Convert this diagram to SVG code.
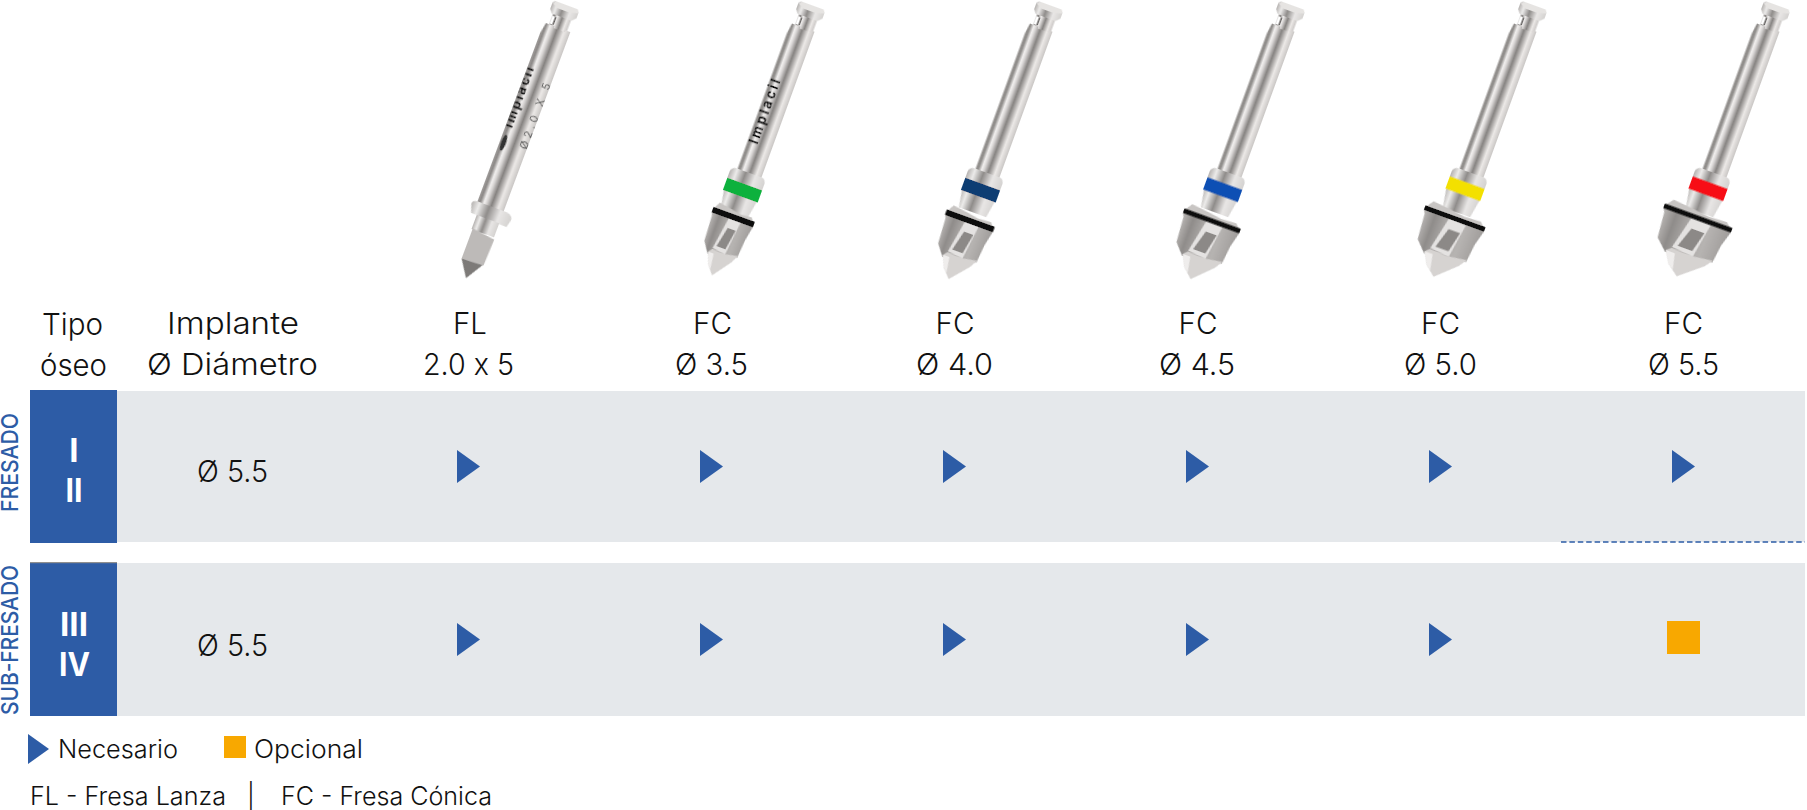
<svg xmlns="http://www.w3.org/2000/svg" width="1807" height="810" viewBox="0 0 1807 810">
<style>
text{font-family:"Inter","Liberation Sans",sans-serif;fill:#111;font-weight:300}
.h{font-size:30px;text-anchor:middle}
.v{font-size:30px;text-anchor:middle}
.l{font-size:25px}
.r{font-size:33px;font-weight:700;fill:#fff;text-anchor:middle}
.s{font-size:23.500px;fill:#2d5ca6;font-weight:500;text-anchor:middle}
.row{fill:#e5e8eb}
.blue{fill:#2d5ca6}
.tri{fill:#2d5ca6}
.opt{fill:#f8a800}
.ring{fill:#0b0b0b}
</style>
<defs>
<linearGradient id="metal" x1="0" x2="1" y1="0" y2="0">
<stop offset="0" stop-color="#a09d9b"/><stop offset=".1" stop-color="#8a8785"/><stop offset=".24" stop-color="#f2f0ef"/><stop offset=".33" stop-color="#d8d5d4"/><stop offset=".52" stop-color="#858280"/><stop offset=".78" stop-color="#ece9e7"/><stop offset="1" stop-color="#c9c6c4"/>
</linearGradient>
<linearGradient id="collar" x1="0" x2="1" y1="0" y2="0">
<stop offset="0" stop-color="#b5b2b0"/><stop offset=".18" stop-color="#ecebea"/><stop offset=".42" stop-color="#8f8c8a"/><stop offset=".7" stop-color="#e8e6e5"/><stop offset="1" stop-color="#d4d2d0"/>
</linearGradient>
<linearGradient id="body" x1="0" x2="1" y1="0" y2="0">
<stop offset="0" stop-color="#bcb9b7"/><stop offset=".2" stop-color="#8f8c8a"/><stop offset=".4" stop-color="#aaa7a5"/><stop offset=".7" stop-color="#b6b3b1"/><stop offset="1" stop-color="#a09d9b"/>
</linearGradient>
<filter id="soft" x="-20%" y="-5%" width="140%" height="110%"><feGaussianBlur stdDeviation="0.5"/></filter>
<g id="top">
<rect x="-9.500" y="4" width="19" height="15" fill="url(#metal)"/>
<path d="M-9.500,8L-6.500,8L-6.500,16L-9.500,16Z" fill="#fff"/>
<path d="M-6.500,8L-5,8L-5,16L-6.500,16Z" fill="#5f5c5a"/>
<path d="M-14,-3Q-14,-7 -10,-7L11,-7Q14,-6 14,-2L14,2L10,6L-11,6L-14,2Z" fill="url(#collar)"/>
<path d="M-13,-4Q-12,-7 -9,-7L11,-7Q14,-6 13,-3L4,-1L-8,-1Z" fill="#e6e4e2"/>
</g>
<g id="upper">
<use href="#top"/>
<path d="M-14.500,172L-14.500,28L-13,17L-4,17L-4,19L8,19L8,17L11,17L11,172Z" fill="url(#metal)"/>
<path d="M-21,177Q-20,172 -15,172L11,172Q15,172 16,177L16,190L12,214L-17,214L-21,190Z" fill="url(#collar)"/>
</g>
<g id="cutter">
<path d="M-24,-9L-6,-7L8,-5L24,-6L30,0L-30,0Z" fill="#c8c5c3"/>
<path d="M-30,2L-28,6L-26,32L-16,43L24,37L26,18L30,2Z" fill="url(#body)"/>
<path d="M-5,2L12,3L7,38L-12,36Z" fill="#e4e2e1"/>
<path d="M-2,12L9.500,12L5,33L-8,33Z" fill="#8c8987"/>
<path d="M-16,41L-10,53L0,62L19,43L24,35L5,38L-12,37Z" fill="#d6d3d1"/>
<path d="M-16,41L-10,53L-5,57L-8,41Z" fill="#efedec"/>
</g>
</defs>

<g id="row-fresado"><rect class="row" x="117" y="391" width="1688" height="151"/><rect class="blue" x="30" y="390" width="87" height="153"/></g>
<g id="row-subfresado"><rect class="row" x="117" y="563" width="1688" height="153"/><rect class="blue" x="30" y="563" width="87" height="153"/><rect x="30" y="562" width="87" height="1.200" fill="#8f8f8f"/></g>
<line x1="1561" y1="542" x2="1805" y2="542" stroke="#2d5ca6" stroke-width="1.400" stroke-dasharray="5.500 2.900"/>

<g id="drill-fl" transform="translate(565,12) rotate(20.400)" filter="url(#soft)">
<use href="#top" transform="translate(-1,0)"/>
<path d="M-16,212L-16,28L-14,17L-5,17L-5,19L7,19L7,17L12,17L12,212Z" fill="url(#metal)"/>
<path d="M-21,212Q-21,208 -15,208L15,208Q22,209 22,214L20,222L-18,221Z" fill="url(#collar)"/>
<rect x="-12" y="221" width="24" height="15" fill="url(#collar)"/>
<path d="M-11,235L13,238L12,266L-11,267Z" fill="#bdbab8"/>
<path d="M-11,267L11,266L0,284Z" fill="#7d7a78"/>
<clipPath id="flclip"><rect x="-15.500" y="50" width="30" height="110"/></clipPath>
<g clip-path="url(#flclip)">
<text transform="translate(-9,128) rotate(-90)" style="font-size:13px;font-weight:700;fill:#111" textLength="64">Implacil</text>
<ellipse cx="-12" cy="144" rx="2.500" ry="8.500" fill="#333"/>
</g>
<text transform="translate(12,143) rotate(-90)" style="font-size:11px;font-weight:400;fill:#555" textLength="70">Ø2.0 X 5</text>
</g>

<g id="drill-35" transform="translate(810,12) rotate(20)" filter="url(#soft)">
<use href="#upper"/>
<rect x="-21" y="184" width="37" height="13" fill="#0eb13c"/>
<use href="#cutter" transform="translate(-2,219) scale(.733,1)"/>
<rect class="ring" x="-24" y="216" width="44" height="6" rx="1"/>
<text transform="translate(-4,143) rotate(-90)" style="font-size:13px;font-weight:700;fill:#111" textLength="68">Implacil</text>
</g>
<g id="drill-40" transform="translate(1048,12) rotate(20)" filter="url(#soft)">
<use href="#upper"/>
<rect x="-21" y="184" width="37" height="13" fill="#0f3c73"/>
<use href="#cutter" transform="translate(-2,223) scale(.85,1)"/>
<rect class="ring" x="-27.500" y="220" width="51" height="6" rx="1"/>
</g>
<g id="drill-45" transform="translate(1290,12) rotate(20)" filter="url(#soft)">
<use href="#upper"/>
<rect x="-21" y="183.500" width="37" height="13" fill="#0c50b4"/>
<use href="#cutter" transform="translate(-2,223) scale(1,1)"/>
<rect class="ring" x="-32" y="220.500" width="60" height="5" rx="1"/>
</g>
<g id="drill-50" transform="translate(1532,12) rotate(20)" filter="url(#soft)">
<use href="#upper"/>
<rect x="-21" y="182.500" width="37" height="13" fill="#f3e000"/>
<use href="#cutter" transform="translate(-2,220.500) scale(1.067,1)"/>
<rect class="ring" x="-34" y="218" width="64" height="5" rx="1"/>
</g>
<g id="drill-55" transform="translate(1775,12) rotate(20)" filter="url(#soft)">
<use href="#upper"/>
<rect x="-21" y="182.500" width="37" height="13" fill="#f70d14"/>
<use href="#cutter" transform="translate(-2,220) scale(1.200,1)"/>
<rect class="ring" x="-38" y="217.500" width="72" height="5" rx="1"/>
</g>

<g id="headers">
<text class="h" x="72.500" y="335" textLength="61" lengthAdjust="spacingAndGlyphs">Tipo</text>
<text class="h" x="73.500" y="376" textLength="67" lengthAdjust="spacingAndGlyphs">óseo</text>
<text class="h" x="233" y="334" textLength="132" lengthAdjust="spacingAndGlyphs">Implante</text>
<text class="h" x="232.500" y="375" textLength="171" lengthAdjust="spacingAndGlyphs">Ø Diámetro</text>
<text class="h" x="470" y="334" textLength="34" lengthAdjust="spacingAndGlyphs">FL</text>
<text class="h" x="468.500" y="375" textLength="91" lengthAdjust="spacingAndGlyphs">2.0 x 5</text>
<text class="h" x="712.500" y="334" textLength="39" lengthAdjust="spacingAndGlyphs">FC</text>
<text class="h" x="711.500" y="375" textLength="73" lengthAdjust="spacingAndGlyphs">Ø 3.5</text>
<text class="h" x="955" y="334" textLength="39" lengthAdjust="spacingAndGlyphs">FC</text>
<text class="h" x="954.500" y="375" textLength="77" lengthAdjust="spacingAndGlyphs">Ø 4.0</text>
<text class="h" x="1198" y="334" textLength="39" lengthAdjust="spacingAndGlyphs">FC</text>
<text class="h" x="1197" y="375" textLength="76" lengthAdjust="spacingAndGlyphs">Ø 4.5</text>
<text class="h" x="1440.500" y="334" textLength="39" lengthAdjust="spacingAndGlyphs">FC</text>
<text class="h" x="1440.500" y="375" textLength="73" lengthAdjust="spacingAndGlyphs">Ø 5.0</text>
<text class="h" x="1683.500" y="334" textLength="39" lengthAdjust="spacingAndGlyphs">FC</text>
<text class="h" x="1683.500" y="375" textLength="71" lengthAdjust="spacingAndGlyphs">Ø 5.5</text>
</g>

<g id="side-labels">
<text class="s" transform="translate(18,462.500) rotate(-90)" textLength="99" lengthAdjust="spacingAndGlyphs">FRESADO</text>
<text class="s" transform="translate(18,640) rotate(-90)" textLength="150" lengthAdjust="spacingAndGlyphs">SUB-FRESADO</text>
<text class="r" x="74" y="462">I</text>
<text class="r" x="74" y="502" textLength="17" lengthAdjust="spacingAndGlyphs">II</text>
<text class="r" x="74" y="636" textLength="28" lengthAdjust="spacingAndGlyphs">III</text>
<text class="r" x="74.500" y="676" textLength="31" lengthAdjust="spacingAndGlyphs">IV</text>
<text class="v" x="232.500" y="482" textLength="71" lengthAdjust="spacingAndGlyphs">Ø 5.5</text>
<text class="v" x="232.500" y="656" textLength="71" lengthAdjust="spacingAndGlyphs">Ø 5.5</text>
</g>

<g id="marks-row1">
<path class="tri" d="M457,450L480,466.500L457,483Z"/>
<path class="tri" d="M700,450L723,466.500L700,483Z"/>
<path class="tri" d="M943,450L966,466.500L943,483Z"/>
<path class="tri" d="M1186,450L1209,466.500L1186,483Z"/>
<path class="tri" d="M1429,450L1452,466.500L1429,483Z"/>
<path class="tri" d="M1672,450L1695,466.500L1672,483Z"/>
</g>
<g id="marks-row2">
<path class="tri" d="M457,623L480,639.500L457,656Z"/>
<path class="tri" d="M700,623L723,639.500L700,656Z"/>
<path class="tri" d="M943,623L966,639.500L943,656Z"/>
<path class="tri" d="M1186,623L1209,639.500L1186,656Z"/>
<path class="tri" d="M1429,623L1452,639.500L1429,656Z"/>
<rect class="opt" x="1667" y="621" width="33" height="33"/>
</g>

<g id="legend">
<path class="tri" d="M28,734L49,749L28,764Z"/>
<text class="l" x="58" y="758" textLength="120" lengthAdjust="spacingAndGlyphs">Necesario</text>
<rect class="opt" x="224" y="736" width="22" height="22"/>
<text class="l" x="254" y="758" textLength="109" lengthAdjust="spacingAndGlyphs">Opcional</text>
<text class="l" x="30" y="805" textLength="196" lengthAdjust="spacingAndGlyphs">FL - Fresa Lanza</text>
<text class="l" x="247" y="805">|</text>
<text class="l" x="281" y="805" textLength="211" lengthAdjust="spacingAndGlyphs">FC - Fresa Cónica</text>
</g>
</svg>
